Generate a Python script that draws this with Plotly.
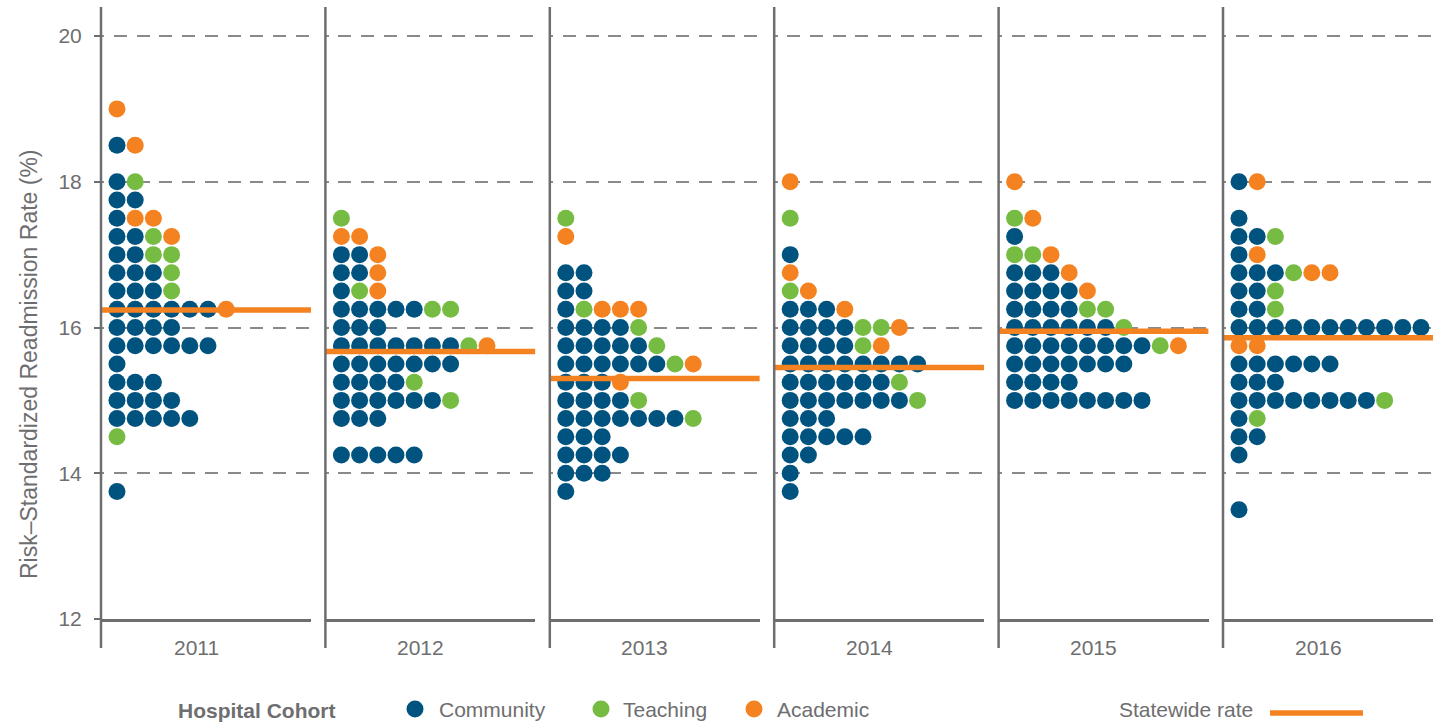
import plotly.graph_objects as go

# ---------------- data ----------------
years = ["2011", "2012", "2013", "2014", "2015", "2016"]

# rate bins (%), top to bottom
levels = [19.0, 18.75, 18.5, 18.25, 18.0, 17.75, 17.5, 17.25, 17.0, 16.75, 16.5,
          16.25, 16.0, 15.75, 15.5, 15.25, 15.0, 14.75, 14.5, 14.25, 14.0, 13.75, 13.5]

# number of hospitals per bin, by cohort
community_2011 = [0, 0, 1, 0, 1, 2, 1, 2, 2, 3, 3, 6, 4, 6, 1, 3, 4, 5, 0, 0, 0, 1, 0]
teaching_2011  = [0, 0, 0, 0, 1, 0, 0, 1, 2, 1, 1, 0, 0, 0, 0, 0, 0, 0, 1, 0, 0, 0, 0]
academic_2011  = [1, 0, 1, 0, 0, 0, 2, 1, 0, 0, 0, 1, 0, 0, 0, 0, 0, 0, 0, 0, 0, 0, 0]

community_2012 = [0, 0, 0, 0, 0, 0, 0, 0, 2, 2, 1, 5, 3, 7, 7, 4, 6, 3, 0, 5, 0, 0, 0]
teaching_2012  = [0, 0, 0, 0, 0, 0, 1, 0, 0, 0, 1, 2, 0, 1, 0, 1, 1, 0, 0, 0, 0, 0, 0]
academic_2012  = [0, 0, 0, 0, 0, 0, 0, 2, 1, 1, 1, 0, 0, 1, 0, 0, 0, 0, 0, 0, 0, 0, 0]

community_2013 = [0, 0, 0, 0, 0, 0, 0, 0, 0, 2, 2, 1, 4, 5, 6, 3, 4, 7, 3, 4, 3, 1, 0]
teaching_2013  = [0, 0, 0, 0, 0, 0, 1, 0, 0, 0, 0, 1, 1, 1, 1, 0, 1, 1, 0, 0, 0, 0, 0]
academic_2013  = [0, 0, 0, 0, 0, 0, 0, 1, 0, 0, 0, 3, 0, 0, 1, 1, 0, 0, 0, 0, 0, 0, 0]

community_2014 = [0, 0, 0, 0, 0, 0, 0, 0, 1, 0, 0, 3, 4, 4, 8, 6, 7, 3, 5, 2, 1, 1, 0]
teaching_2014  = [0, 0, 0, 0, 0, 0, 1, 0, 0, 0, 1, 0, 2, 1, 0, 1, 1, 0, 0, 0, 0, 0, 0]
academic_2014  = [0, 0, 0, 0, 1, 0, 0, 0, 0, 1, 1, 1, 1, 1, 0, 0, 0, 0, 0, 0, 0, 0, 0]

community_2015 = [0, 0, 0, 0, 0, 0, 0, 1, 0, 3, 4, 4, 6, 8, 7, 4, 8, 0, 0, 0, 0, 0, 0]
teaching_2015  = [0, 0, 0, 0, 0, 0, 1, 0, 2, 0, 0, 2, 1, 1, 0, 0, 0, 0, 0, 0, 0, 0, 0]
academic_2015  = [0, 0, 0, 0, 1, 0, 1, 0, 1, 1, 1, 0, 0, 1, 0, 0, 0, 0, 0, 0, 0, 0, 0]

community_2016 = [0, 0, 0, 0, 1, 0, 1, 2, 1, 3, 2, 2, 11, 0, 6, 3, 8, 1, 2, 1, 0, 0, 1]
teaching_2016  = [0, 0, 0, 0, 0, 0, 0, 1, 0, 1, 1, 1, 0, 0, 0, 0, 1, 1, 0, 0, 0, 0, 0]
academic_2016  = [0, 0, 0, 0, 1, 0, 0, 0, 1, 2, 0, 0, 0, 2, 0, 0, 0, 0, 0, 0, 0, 0, 0]

statewide = [16.24, 15.67, 15.30, 15.45, 15.95, 15.86]

y_ticks = [12, 14, 16, 18, 20]

cohorts = ["Community", "Teaching", "Academic"]
counts = {
    "Community": [community_2011, community_2012, community_2013,
                  community_2014, community_2015, community_2016],
    "Teaching": [teaching_2011, teaching_2012, teaching_2013,
                 teaching_2014, teaching_2015, teaching_2016],
    "Academic": [academic_2011, academic_2012, academic_2013,
                 academic_2014, academic_2015, academic_2016],
}

# ---------------- style ----------------
W, H = 1439, 734
REF_H = 723
BLUE = "#00537F"
GREEN = "#76BC43"
ORANGE = "#F58220"
GRAY = "#6E6E70"
GRID = "#8A8A8A"
FONT = "Liberation Sans, Arial, sans-serif"
colors = {"Community": BLUE, "Teaching": GREEN, "Academic": ORANGE}

panel_left = [101 + 224.4 * i for i in range(6)]
panel_w = 210
dot_step = 18.2
first_dot = 16
plot_top, plot_bot = 7, 619
px_per_unit = (619 - 36) / 8.0
x_range = [-first_dot / dot_step, (panel_w - first_dot) / dot_step]
y_range = [12, 12 + (plot_bot - plot_top) / px_per_unit]


def px(p):
    return p / W


def py(p):
    return 1 - p / REF_H


fig = go.Figure()

for i, yr in enumerate(years):
    xa = "x" if i == 0 else f"x{i + 1}"
    ya = "y" if i == 0 else f"y{i + 1}"
    xs = {c: [] for c in cohorts}
    ys = {c: [] for c in cohorts}
    for j, lv in enumerate(levels):
        pos = 0
        for c in cohorts:
            for _ in range(counts[c][i][j]):
                xs[c].append(pos)
                ys[c].append(lv)
                pos += 1
    for c in cohorts:
        fig.add_trace(go.Scatter(
            x=xs[c], y=ys[c], mode="markers", name=c,
            marker=dict(size=17, color=colors[c], line=dict(width=0)),
            xaxis=xa, yaxis=ya, showlegend=False, hoverinfo="skip"))
    fig.add_trace(go.Scatter(
        x=x_range, y=[statewide[i], statewide[i]], mode="lines",
        name="Statewide rate", line=dict(color=ORANGE, width=5.5),
        xaxis=xa, yaxis=ya, showlegend=False, hoverinfo="skip"))

    L = panel_left[i]
    xkey = "xaxis" if i == 0 else f"xaxis{i + 1}"
    ykey = "yaxis" if i == 0 else f"yaxis{i + 1}"
    fig.layout[xkey] = dict(
        domain=[px(L), px(L + panel_w)], range=x_range, anchor=ya,
        showgrid=False, zeroline=False, showticklabels=False, ticks="",
        showline=True, linecolor=GRAY, linewidth=2.5, fixedrange=True)
    fig.layout[ykey] = dict(
        domain=[py(plot_bot), py(plot_top)], range=y_range, anchor=xa,
        tickvals=y_ticks, ticktext=[str(t) for t in y_ticks],
        showgrid=True, gridcolor=GRID, gridwidth=1.8,
        griddash="3.3px,9.7px,9.7px,0px",
        zeroline=False, showline=False, fixedrange=True,
        showticklabels=(i == 0),
        ticks="outside" if i == 0 else "", ticklen=6, tickwidth=2,
        tickcolor=GRAY, ticklabelstandoff=8,
        tickfont=dict(size=21, color=GRAY, family=FONT))

    # vertical panel axis line (extends below the baseline)
    fig.add_shape(type="line", xref="paper", yref="paper",
                  x0=px(L), x1=px(L), y0=py(648), y1=py(plot_top),
                  line=dict(color=GRAY, width=2.5), layer="above")
    # year label
    fig.add_annotation(text=yr, xref="paper", yref="paper",
                       x=px(L + 95), y=py(647), xanchor="center", yanchor="middle",
                       showarrow=False, font=dict(size=21, color=GRAY, family=FONT))

# y-axis title
fig.add_annotation(text="Risk–Standardized Readmission Rate (%)",
                   xref="paper", yref="paper", x=px(29), y=py(364),
                   textangle=-90, xanchor="center", yanchor="middle",
                   showarrow=False, font=dict(size=23, color=GRAY, family=FONT))

# ---------------- legend ----------------
leg_y = 709
fig.add_annotation(text="<b>Hospital Cohort</b>", xref="paper", yref="paper",
                   x=px(257), y=py(leg_y + 1), xanchor="center", yanchor="middle",
                   showarrow=False, font=dict(size=21, color=GRAY, family=FONT))
for c, cx, tx in [("Community", 415, 437), ("Teaching", 601, 621), ("Academic", 754, 775)]:
    fig.add_shape(type="circle", xref="paper", yref="paper",
                  x0=px(cx - 8.5), x1=px(cx + 8.5), y0=py(leg_y + 8.5), y1=py(leg_y - 8.5),
                  fillcolor=colors[c], line=dict(width=0))
    fig.add_annotation(text=c, xref="paper", yref="paper",
                       x=px(tx), y=py(leg_y), xanchor="left", yanchor="middle",
                       showarrow=False, font=dict(size=21, color=GRAY, family=FONT))
fig.add_annotation(text="Statewide rate", xref="paper", yref="paper",
                   x=px(1117), y=py(leg_y), xanchor="left", yanchor="middle",
                   showarrow=False, font=dict(size=21, color=GRAY, family=FONT))
fig.add_shape(type="line", xref="paper", yref="paper",
              x0=px(1270), x1=px(1363), y0=py(leg_y + 4), y1=py(leg_y + 4),
              line=dict(color=ORANGE, width=5.5))

fig.update_layout(
    width=W, height=H, autosize=False, margin=dict(l=0, r=0, t=0, b=0),
    paper_bgcolor="white", plot_bgcolor="white",
    font=dict(family=FONT, color=GRAY), showlegend=False)

fig.write_html("out.html", config={"displayModeBar": False, "responsive": False},
               post_script="document.body.style.margin='0';"
                           "document.body.style.overflow='hidden';")
